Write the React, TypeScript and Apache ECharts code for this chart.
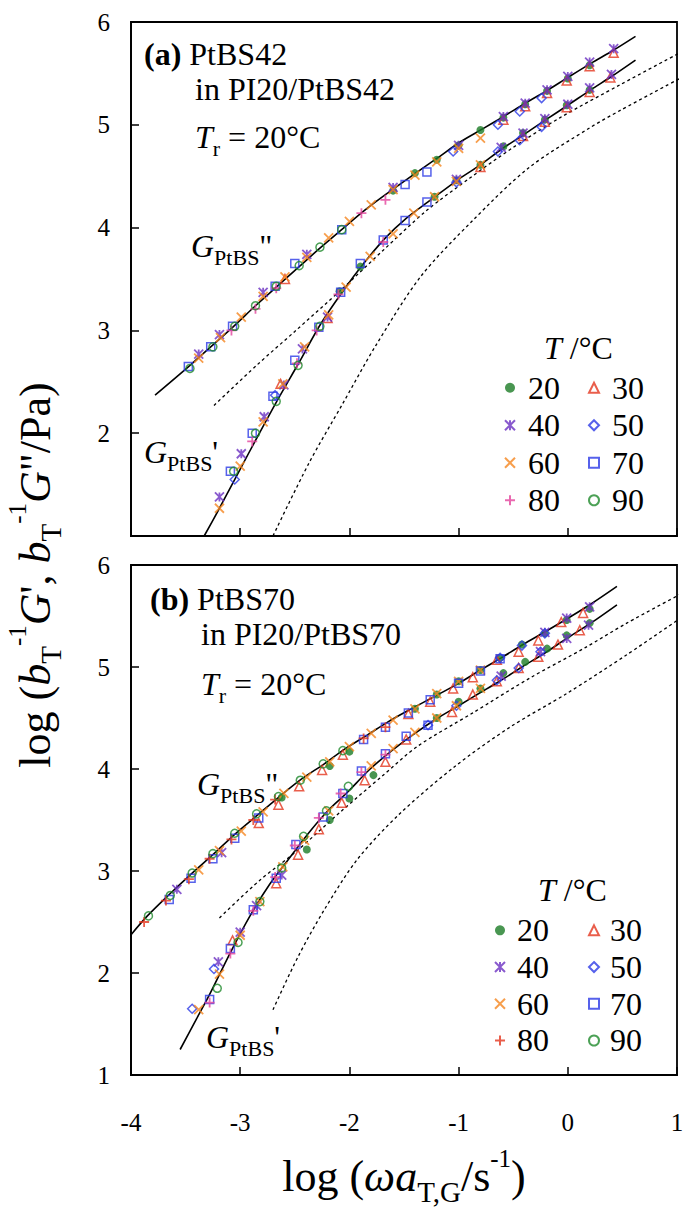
import { useEffect, useRef } from 'react';
import * as echarts from 'echarts';

const FONT = 'Liberation Serif, Times New Roman, serif';

// ---------- model curves (x = log(ω aT,G), y = log modulus) ----------
const aFitGpp = [[-3.78,2.37],[-3.47,2.65],[-3.27,2.84],[-3.06,3.04],[-2.86,3.24],[-2.66,3.43],[-2.46,3.62],[-2.27,3.80],[-2.06,3.99],[-1.87,4.16],[-1.67,4.32],[-1.38,4.54],[-1.19,4.68],[-0.99,4.83],[-0.78,4.96],[-0.59,5.08],[-0.39,5.21],[-0.18,5.34],[0.0,5.46],[0.23,5.61],[0.41,5.72],[0.62,5.86]];
const aFitGp = [[-3.33,1.0],[-3.19,1.27],[-2.99,1.67],[-2.86,1.93],[-2.66,2.32],[-2.46,2.69],[-2.27,3.05],[-2.06,3.38],[-1.87,3.65],[-1.67,3.90],[-1.48,4.09],[-1.28,4.25],[-1.0,4.47],[-0.8,4.61],[-0.61,4.76],[-0.41,4.90],[-0.2,5.05],[0.0,5.19],[0.21,5.34],[0.4,5.47],[0.62,5.63]];
const aRefUpper = [[-3.24,2.27],[-2.85,2.66],[-2.5,2.99],[-2.06,3.41],[-1.69,3.78],[-1.3,4.16],[-0.9,4.48],[-0.5,4.78],[-0.07,5.07],[0.48,5.39],[1.06,5.72]];
const aRefLower = [[-2.70,1.0],[-2.37,1.71],[-2.06,2.29],[-1.76,2.85],[-1.35,3.52],[-0.87,4.07],[-0.36,4.58],[0.2,4.97],[0.48,5.14],[1.06,5.47]];

const bFitGpp = [[-4.02,2.35],[-3.85,2.56],[-3.65,2.77],[-3.45,2.97],[-3.24,3.17],[-3.05,3.36],[-2.84,3.55],[-2.64,3.73],[-2.44,3.90],[-2.23,4.05],[-2.05,4.19],[-1.84,4.33],[-1.65,4.46],[-1.45,4.58],[-1.24,4.70],[-1.0,4.84],[-0.8,4.97],[-0.61,5.09],[-0.41,5.22],[-0.2,5.35],[0.02,5.49],[0.23,5.63],[0.45,5.79]];
const bFitGp = [[-3.55,1.25],[-3.40,1.55],[-3.28,1.79],[-3.09,2.20],[-2.91,2.56],[-2.73,2.87],[-2.54,3.14],[-2.36,3.39],[-2.18,3.61],[-2.02,3.77],[-1.82,3.99],[-1.60,4.19],[-1.40,4.35],[-1.19,4.50],[-1.0,4.62],[-0.8,4.75],[-0.61,4.87],[-0.42,5.0],[-0.22,5.13],[-0.01,5.28],[0.21,5.43],[0.45,5.61]];
const bRefUpper = [[-3.19,2.54],[-2.82,2.91],[-2.5,3.18],[-2.06,3.60],[-1.70,3.93],[-1.38,4.22],[-0.87,4.55],[-0.35,4.89],[0.16,5.19],[0.54,5.43],[1.06,5.73]];
const bRefLower = [[-2.70,1.64],[-2.47,2.16],[-2.23,2.62],[-1.93,3.11],[-1.55,3.55],[-1.04,4.02],[-0.53,4.41],[-0.01,4.74],[0.54,5.12],[1.06,5.50]];

// ---------- data points, panel (a) PtBS42 ----------
const a20Gpp = [[-1.60,4.36],[-1.40,4.53],[-1.20,4.66],[-1.00,4.80],[-0.80,4.95],[-0.59,5.07],[-0.39,5.20],[-0.19,5.33],[0.0,5.45],[0.20,5.58]];
const a20Gp = [[-2.09,3.38],[-1.90,3.62],[-1.22,4.30],[-1.02,4.46],[-0.80,4.61],[-0.59,4.79],[-0.41,4.92],[-0.21,5.05],[-0.01,5.19],[0.20,5.34]];
const a30Gpp = [[-2.59,3.50],[-0.59,5.05],[-0.39,5.18],[-0.19,5.31],[-0.01,5.43],[0.20,5.57],[0.42,5.70]];
const a30Gp = [[-2.63,2.48],[-2.20,3.12],[-0.80,4.59],[-0.41,4.89],[-0.21,5.03],[-0.01,5.17],[0.20,5.32],[0.39,5.46]];
const a40Gpp = [[-3.38,2.77],[-3.19,2.96],[-2.79,3.37],[-2.39,3.74],[-1.60,4.39],[-1.00,4.80],[-0.59,5.08],[-0.39,5.21],[-0.19,5.34],[0.0,5.47],[0.20,5.61],[0.42,5.74]];
const a40Gp = [[-3.19,1.38],[-2.99,1.80],[-2.78,2.16],[-2.60,2.47],[-2.43,2.82],[-2.20,3.13],[-1.02,4.47],[-0.61,4.78],[-0.41,4.92],[-0.21,5.06],[0.0,5.20],[0.20,5.36],[0.40,5.49]];
const a50Gpp = [[-1.05,4.74],[-0.64,5.00],[-0.44,5.13],[-0.24,5.26]];
const a50Gp = [[-3.05,1.55],[-2.68,2.37],[-1.02,4.44],[-0.64,4.74],[-0.44,4.85],[-0.24,4.98]];
const a60Gpp = [[-3.38,2.73],[-3.18,2.93],[-2.99,3.13],[-2.79,3.33],[-2.59,3.52],[-2.39,3.71],[-2.19,3.90],[-2.00,4.06],[-1.80,4.22],[-1.60,4.37],[-1.40,4.51],[-1.20,4.64],[-1.00,4.77],[-0.80,4.87]];
const a60Gp = [[-3.19,1.27],[-3.00,1.68],[-2.79,2.11],[-2.61,2.48],[-2.41,2.84],[-2.19,3.15],[-2.03,3.42],[-1.81,3.72],[-1.60,3.94],[-1.41,4.14],[-1.22,4.30],[-1.02,4.45],[-0.80,4.61]];
const a70Gpp = [[-3.475,2.65],[-3.27,2.84],[-3.07,3.04],[-2.68,3.43],[-2.50,3.65],[-2.07,3.98],[-1.49,4.42],[-1.29,4.54]];
const a70Gp = [[-3.09,1.63],[-2.89,2.00],[-2.70,2.36],[-2.50,2.71],[-2.28,3.03],[-2.08,3.37],[-1.90,3.65],[-1.69,3.88],[-1.49,4.07],[-1.29,4.25]];
const a80Gpp = [[-3.08,3.00],[-2.86,3.21],[-2.67,3.41],[-1.89,4.14],[-1.67,4.27]];
const a80Gp = [[-2.89,1.92],[-2.48,2.68],[-2.30,3.00],[-2.10,3.35],[-1.69,3.86]];
const a90Gpp = [[-3.46,2.63],[-3.25,2.84],[-3.05,3.04],[-2.86,3.24],[-2.67,3.43],[-2.46,3.63],[-2.27,3.81],[-2.07,3.98]];
const a90Gp = [[-3.06,1.63],[-2.86,2.00],[-2.67,2.31],[-2.47,2.66],[-2.27,3.04]];

// ---------- data points, panel (b) PtBS70 ----------
const b20Gpp = [[-2.62,3.72],[-2.18,4.03],[-2.00,4.17],[-1.40,4.59],[-1.20,4.73],[-1.00,4.86],[-0.80,4.97],[-0.62,5.09],[-0.42,5.22],[-0.21,5.33],[-0.01,5.46],[0.20,5.57]];
const b20Gp = [[-2.39,3.21],[-2.18,3.50],[-2.00,3.71],[-1.78,3.94],[-1.20,4.50],[-1.00,4.66],[-0.80,4.79],[-0.59,4.94],[-0.39,5.05],[-0.19,5.18],[-0.01,5.31],[0.20,5.43]];
const b30Gpp = [[-2.83,3.47],[-2.65,3.65],[-2.46,3.83],[-2.25,3.99],[-2.06,4.14],[-1.46,4.54],[-1.26,4.66],[-1.05,4.79],[-0.87,4.90],[-0.65,5.07],[-0.45,5.15],[-0.27,5.26],[-0.06,5.44],[0.14,5.53]];
const b30Gp = [[-3.07,2.32],[-2.67,2.88],[-2.47,3.16],[-2.28,3.41],[-2.07,3.67],[-1.86,3.89],[-1.67,4.07],[-1.48,4.29],[-1.06,4.56],[-0.87,4.73],[-0.65,4.86],[-0.45,4.99],[-0.27,5.10],[-0.09,5.22],[0.11,5.36]];
const b40Gpp = [[-3.58,2.82],[-3.17,3.18],[-0.21,5.34],[-0.01,5.48],[0.20,5.59]];
const b40Gp = [[-3.20,2.11],[-3.00,2.40],[-2.85,2.66],[-2.62,2.96],[-0.61,4.91],[-0.25,5.15],[-0.01,5.28],[0.19,5.41]];
const b50Gpp = [[-0.62,5.09],[-0.42,5.21],[-0.21,5.33]];
const b50Gp = [[-3.44,1.65],[-3.24,2.04],[-1.28,4.43],[-1.02,4.62],[-0.65,4.87],[-0.45,4.99],[-0.25,5.15]];
const b60Gpp = [[-3.38,3.01],[-3.19,3.20],[-2.99,3.39],[-2.79,3.58],[-2.60,3.76],[-2.39,3.92],[-2.18,4.07],[-2.00,4.22],[-1.80,4.35],[-1.60,4.48],[-1.40,4.59],[-1.20,4.74],[-1.00,4.86],[-0.80,4.97]];
const b60Gp = [[-3.38,1.64],[-3.19,1.99],[-3.00,2.37],[-2.82,2.70],[-2.61,3.04],[-2.41,3.30],[-2.19,3.59],[-1.80,4.03],[-1.60,4.20],[-1.40,4.36],[-1.20,4.50],[-1.02,4.62],[-0.80,4.79]];
const b70Gpp = [[-3.65,2.72],[-3.45,2.93],[-3.25,3.12],[-3.05,3.32],[-2.83,3.52],[-1.87,4.29],[-1.67,4.41],[-1.46,4.55],[-1.26,4.68],[-1.00,4.84],[-0.80,4.96],[-0.62,5.08]];
const b70Gp = [[-3.28,1.74],[-3.09,2.24],[-2.88,2.62],[-2.67,2.93],[-2.49,3.26],[-2.24,3.53],[-2.06,3.76],[-1.89,3.98],[-1.67,4.15],[-1.48,4.32],[-1.28,4.43]];
const b80Gpp = [[-3.88,2.50],[-3.68,2.71],[-3.47,2.92],[-3.28,3.12],[-3.08,3.31],[-2.88,3.50],[-2.68,3.70],[-1.87,4.30],[-1.67,4.41]];
const b80Gp = [[-3.28,1.71],[-3.09,2.19],[-2.88,2.61],[-2.68,2.94],[-2.50,3.25],[-2.28,3.52],[-2.08,3.76],[-1.89,3.97],[-1.67,4.14]];
const b90Gpp = [[-3.84,2.56],[-3.64,2.76],[-3.44,2.98],[-3.25,3.17],[-3.05,3.37],[-2.85,3.56],[-2.65,3.73],[-2.45,3.89],[-2.24,4.05],[-2.06,4.18]];
const b90Gp = [[-3.21,1.85],[-3.02,2.30],[-2.82,2.70],[-2.62,3.03],[-2.42,3.34],[-2.21,3.59],[-2.01,3.83]];

const TEMPS = ['20', '30', '40', '50', '60', '70', '80', '90'];
const X_TICKS = [-4, -3, -2, -1, 0, 1];
const Y_TICKS = [1, 2, 3, 4, 5, 6];

const PANEL_A: Record<string, number[][][]> = {
  '20': [a20Gpp, a20Gp], '30': [a30Gpp, a30Gp], '40': [a40Gpp, a40Gp], '50': [a50Gpp, a50Gp],
  '60': [a60Gpp, a60Gp], '70': [a70Gpp, a70Gp], '80': [a80Gpp, a80Gp], '90': [a90Gpp, a90Gp],
};
const PANEL_B: Record<string, number[][][]> = {
  '20': [b20Gpp, b20Gp], '30': [b30Gpp, b30Gp], '40': [b40Gpp, b40Gp], '50': [b50Gpp, b50Gp],
  '60': [b60Gpp, b60Gp], '70': [b70Gpp, b70Gp], '80': [b80Gpp, b80Gp], '90': [b90Gpp, b90Gp],
};

const GREEN = '#1c7c26';
const RED = '#e3361e';
const PURPLE = '#6b31c2';
const BLUE = '#2c3ae6';
const ORANGE = '#f5861f';
const MAGENTA = '#e4449c';

type Mark = { symbol: string; size: number; color: string; kind: 'fill' | 'open' | 'stroke' };
const MARKS: Record<string, Mark> = {
  '20': { symbol: 'circle', size: 8, color: GREEN, kind: 'fill' },
  '30': { symbol: 'triangle', size: 9, color: RED, kind: 'open' },
  '40': { symbol: 'path://M0,0L10,10M10,0L0,10M5,0L5,10', size: 9, color: PURPLE, kind: 'stroke' },
  '50': { symbol: 'diamond', size: 9, color: BLUE, kind: 'open' },
  '60': { symbol: 'path://M0,0L10,10M10,0L0,10', size: 9, color: ORANGE, kind: 'stroke' },
  '70': { symbol: 'rect', size: 8, color: BLUE, kind: 'open' },
  '80': { symbol: 'path://M5,0L5,10M0,5L10,5', size: 10, color: MAGENTA, kind: 'stroke' },
  '90': { symbol: 'circle', size: 8, color: '#1f8a2c', kind: 'open' },
};

function itemStyleFor(kind: string, color: string) {
  if (kind === 'fill') return { color, borderWidth: 0 };
  if (kind === 'open') return { color: 'transparent', borderColor: color, borderWidth: 1.5 };
  return { color, borderColor: color, borderWidth: 1.8 };
}

function scatterSeries(panel: 'a' | 'b', idx: number, table: Record<string, number[][][]>) {
  return TEMPS.map((t) => {
    const m = MARKS[t];
    // in panel (b) the 80 °C G'' points and legend key are red, its G' points magenta
    const serColor = panel === 'b' && t === '80' ? RED : m.color;
    const [gpp, gp] = table[t];
    const data = [
      ...gpp.map((p) => ({ value: p })),
      ...gp.map((p) => ({ value: p, itemStyle: itemStyleFor(m.kind, m.color) })),
    ];
    return {
      name: panel + t,
      type: 'scatter',
      xAxisIndex: idx,
      yAxisIndex: idx,
      symbol: m.symbol,
      symbolSize: m.size,
      itemStyle: itemStyleFor(m.kind, serColor),
      data,
      z: 5,
      silent: true,
    };
  });
}

function curve(idx: number, data: number[][], dashed: boolean) {
  return {
    type: 'line',
    xAxisIndex: idx,
    yAxisIndex: idx,
    data,
    symbol: 'none',
    showSymbol: false,
    smooth: 0.3,
    clip: false,
    silent: true,
    z: 3,
    lineStyle: dashed
      ? { color: '#000', width: 1.3, type: [3, 3] }
      : { color: '#000', width: 1.6, type: 'solid' },
  };
}

const RICH32 = {
  n: { fontSize: 32, fontFamily: FONT, lineHeight: 44, verticalAlign: 'middle', fill: '#000' },
  i: { fontSize: 32, fontFamily: FONT, fontStyle: 'italic', lineHeight: 44, verticalAlign: 'middle', fill: '#000' },
  b: { fontSize: 32, fontFamily: FONT, fontWeight: 'bold', lineHeight: 44, verticalAlign: 'middle', fill: '#000' },
  s: { fontSize: 22, fontFamily: FONT, lineHeight: 27, verticalAlign: 'bottom', fill: '#000' },
};
const RICH44 = {
  n: { fontSize: 44, fontFamily: FONT, lineHeight: 60, verticalAlign: 'middle', fill: '#000' },
  i: { fontSize: 44, fontFamily: FONT, fontStyle: 'italic', lineHeight: 60, verticalAlign: 'middle', fill: '#000' },
  s: { fontSize: 29, fontFamily: FONT, lineHeight: 34, verticalAlign: 'bottom', fill: '#000' },
  p: { fontSize: 25, fontFamily: FONT, lineHeight: 46, verticalAlign: 'top', fill: '#000' },
};

function label(x: number, y: number, text: string, rich: any, size: number, center = false, rotation = 0) {
  return {
    type: 'text',
    x,
    y,
    rotation,
    silent: true,
    z: 10,
    style: {
      text,
      rich,
      fontFamily: FONT,
      fontSize: size,
      fill: '#000',
      align: center ? 'center' : 'left',
      verticalAlign: 'middle',
    },
  };
}

function legendCol(names: string[], left: number, top: number, rowH: number, pad: number) {
  return {
    data: names,
    orient: 'vertical',
    left,
    top,
    padding: 0,
    itemGap: 0,
    itemWidth: 10,
    itemHeight: 10,
    selectedMode: false,
    formatter: (n: string) => n.slice(1),
    textStyle: { fontSize: 32, fontFamily: FONT, color: '#000', lineHeight: rowH, padding: [0, 0, 0, pad] },
  };
}

function axisBase(idx: number) {
  return {
    gridIndex: idx,
    type: 'value',
    axisLine: { show: true, onZero: false, lineStyle: { color: '#000', width: 1.8 } },
    axisTick: { show: true, inside: true, length: 8, lineStyle: { color: '#000', width: 1.5 } },
    splitLine: { show: false },
  };
}

export default function App() {
  const ref = useRef<HTMLDivElement>(null);
  useEffect(() => {
    document.body.style.margin = '0';
    const chart = echarts.init(ref.current!, null, { renderer: 'svg' });
    const xLabel = { fontSize: 25, fontFamily: FONT, color: '#000', margin: 35 };
    const yLabel = { fontSize: 25, fontFamily: FONT, color: '#000', margin: 21 };
    const option: any = {
      animation: false,
      backgroundColor: '#fff',
      textStyle: { fontFamily: FONT },
      grid: [
        { left: 131, top: 22, width: 546, height: 514, show: true, borderColor: '#000', borderWidth: 1.8, outerBoundsMode: 'none', containLabel: false },
        { left: 131, top: 565, width: 546, height: 510, show: true, borderColor: '#000', borderWidth: 1.8, outerBoundsMode: 'none', containLabel: false },
      ],
      xAxis: [
        { ...axisBase(0), min: X_TICKS[0], max: X_TICKS[X_TICKS.length - 1], interval: 1, axisLabel: { show: false } },
        { ...axisBase(1), min: X_TICKS[0], max: X_TICKS[X_TICKS.length - 1], interval: 1, axisLabel: xLabel },
      ],
      yAxis: [
        { ...axisBase(0), min: Y_TICKS[0], max: Y_TICKS[Y_TICKS.length - 1], interval: 1, axisLabel: { ...yLabel, showMinLabel: false } },
        { ...axisBase(1), min: Y_TICKS[0], max: Y_TICKS[Y_TICKS.length - 1], interval: 1, axisLabel: yLabel },
      ],
      legend: [
        legendCol(['a20', 'a40', 'a60', 'a80'], 504, 369, 37.5, 8),
        legendCol(['a30', 'a50', 'a70', 'a90'], 588, 369, 37.5, 8),
        legendCol(['b20', 'b40', 'b60', 'b80'], 494, 912, 36.7, 7),
        legendCol(['b30', 'b50', 'b70', 'b90'], 588, 912, 36.7, 6),
      ],
      series: [
        curve(0, aFitGpp, false),
        curve(0, aFitGp, false),
        curve(0, aRefUpper, true),
        curve(0, aRefLower, true),
        curve(1, bFitGpp, false),
        curve(1, bFitGp, false),
        curve(1, bRefUpper, true),
        curve(1, bRefLower, true),
        ...scatterSeries('a', 0, PANEL_A),
        ...scatterSeries('b', 1, PANEL_B),
      ],
      graphic: [
        label(144, 54, '{b|(a)}{n| PtBS42}', RICH32, 32),
        label(195, 89, '{n|in PI20/PtBS42}', RICH32, 32),
        label(195, 137, '{i|T}{s|r}{n| = 20°C}', RICH32, 32),
        label(191, 246, '{i|G}{s|PtBS}{n|"}', RICH32, 32),
        label(144, 452, "{i|G}{s|PtBS}{n|'}", RICH32, 32),
        label(544, 348, '{i|T}{n| /°C}', RICH32, 32),
        label(150, 599, '{b|(b)}{n| PtBS70}', RICH32, 32),
        label(201, 634, '{n|in PI20/PtBS70}', RICH32, 32),
        label(201, 684, '{i|T}{s|r}{n| = 20°C}', RICH32, 32),
        label(197, 784, '{i|G}{s|PtBS}{n|"}', RICH32, 32),
        label(206, 1037, "{i|G}{s|PtBS}{n|'}", RICH32, 32),
        label(538, 890, '{i|T}{n| /°C}', RICH32, 32),
        label(404, 1176, '{n|log (}{i|ωa}{s|T,G}{n|/s}{p|-1}{n|)}', RICH44, 44, true),
        label(35, 575, "{n|log (}{i|b}{s|T}{p|-1}{i|G}{n|', }{i|b}{s|T}{p|-1}{i|G}{n|\"/Pa)}", RICH44, 44, true, Math.PI / 2),
      ],
    };
    chart.setOption(option);
    return () => chart.dispose();
  }, []);
  return <div ref={ref} style={{ position: 'absolute', left: 0, top: 0, width: 683, height: 1210 }} />;
}
